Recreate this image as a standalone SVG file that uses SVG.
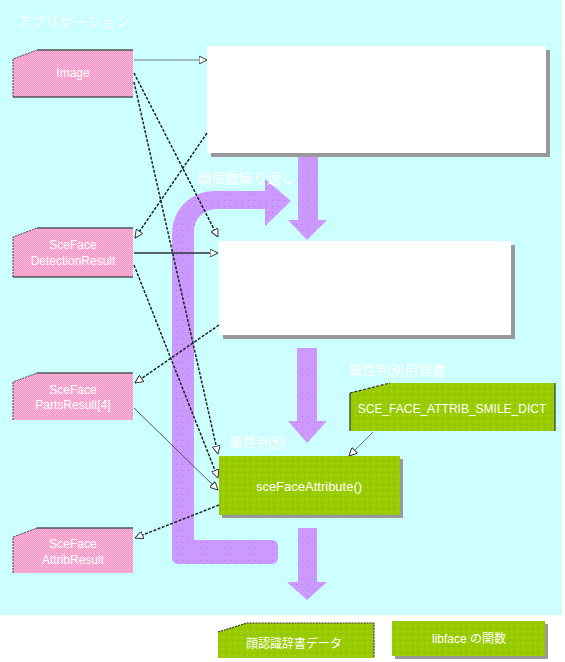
<svg xmlns="http://www.w3.org/2000/svg" width="565" height="662" viewBox="0 0 565 662">
<style>
.t{font-family:"Liberation Sans","Noto Sans CJK JP",Arial,sans-serif;fill:#ffffff;}
.pink{fill:url(#pinkPat);}
.pinkEdge{fill:none;stroke:#555;stroke-width:1.5;}
.green{fill:url(#greenPat);}
.shadow{fill:#999999;}
.white{fill:#ffffff;}
.purple{fill:url(#purplePat);}
.dash{fill:none;stroke:#222;stroke-width:1.5;stroke-dasharray:3 1.5;marker-end:url(#ah);}
.solid{fill:none;stroke:#333;stroke-width:1.5;marker-end:url(#ah);}
.thin{fill:none;stroke:#777;stroke-width:1;marker-end:url(#ah);}
</style>
<defs>
<pattern id="bgPat" width="8" height="8" patternUnits="userSpaceOnUse">
<rect width="8" height="8" fill="#ccffff"/>
<rect x="0" y="0" width="1" height="1" fill="#eaffff"/>
<rect x="4" y="4" width="1" height="1" fill="#c0eef2"/>
</pattern>
<pattern id="pinkPat" width="2" height="2" patternUnits="userSpaceOnUse">
<rect width="2" height="2" fill="#f295c6"/>
<rect x="0" y="0" width="1" height="1" fill="#fbb8da"/>
<rect x="1" y="1" width="1" height="1" fill="#fbb8da"/>
</pattern>
<pattern id="greenPat" width="6" height="6" patternUnits="userSpaceOnUse">
<rect width="6" height="6" fill="#99cc00"/>
<rect x="1" y="1" width="1" height="1" fill="#b8dc40"/>
<rect x="4" y="4" width="1" height="1" fill="#86b400"/>
</pattern>
<pattern id="purplePat" width="6" height="6" patternUnits="userSpaceOnUse">
<rect width="6" height="6" fill="#cc99ff"/>
<rect x="2" y="2" width="1" height="1" fill="#aa7ae0"/>
</pattern>
<marker id="ah" viewBox="0 0 10 10" refX="10" refY="5" markerWidth="9" markerHeight="8" markerUnits="userSpaceOnUse" orient="auto">
<path d="M0,0 L10,5 L0,10 Z" fill="#ffffff" stroke="#333" stroke-width="1.2"/>
</marker>
</defs>

<rect x="0" y="0" width="565" height="662" fill="#ffffff"/>
<rect id="app-bg" x="0" y="0" width="562" height="615" fill="url(#bgPat)"/>
<text class="t" x="17" y="27" font-size="14">アプリケーション</text>

<g id="flow-arrows">
<path class="purple" d="M291,201 L265,226 L265,209 L216,209 A22,22 0 0 0 194,231 L194,540 L272,540 A6,6 0 0 1 278,546 L278,558 A6,6 0 0 1 272,564 L178,564 A6,6 0 0 1 172,558 L172,233 A42,42 0 0 1 214,191 L265,191 L265,179 Z"/>
<path class="purple" d="M298,157 L318,157 L318,220 L327,220 L307,240 L288,220 L298,220 Z"/>
<path class="purple" d="M297,348 L317,348 L317,421 L327,421 L307,443 L288,421 L297,421 Z"/>
<path class="purple" d="M298,528 L317,528 L317,582 L327,582 L307,600 L287,582 L298,582 Z"/>
</g>

<text class="t" x="197" y="183" font-size="14">顔個数繰り返し</text>
<text class="t" x="348" y="375" font-size="14">属性判別用辞書</text>
<text class="t" x="229" y="447" font-size="14">属性判別</text>

<g id="box-top">
<rect class="shadow" x="211" y="50" width="339" height="107"/>
<rect class="white" x="207" y="46" width="339" height="107"/>
</g>
<g id="box-middle">
<rect class="shadow" x="223" y="245" width="292" height="94"/>
<rect class="white" x="219" y="241" width="292" height="94"/>
</g>

<g id="image">
<path class="pink" d="M13,59 L37,50 L133,50 L133,97 L13,97 Z"/>
<path class="pinkEdge" d="M13,97 L133,97 M37,50 L133,50"/>
<path fill="none" stroke="#444" stroke-width="1" stroke-dasharray="2 1" d="M13,97 L13,59 L37,50"/>
<text class="t" x="73" y="77" font-size="12" text-anchor="middle">Image</text>
</g>
<g id="detection-result">
<path class="pink" d="M13,237 L37,228 L133,228 L133,277 L13,277 Z"/>
<path class="pinkEdge" d="M13,277 L133,277 M37,228 L133,228"/>
<path fill="none" stroke="#444" stroke-width="1" stroke-dasharray="2 1" d="M13,277 L13,237 L37,228"/>
<text class="t" x="73" y="249" font-size="12" text-anchor="middle">SceFace</text>
<text class="t" x="73" y="265" font-size="12" text-anchor="middle">DetectionResult</text>
</g>
<g id="parts-result">
<path class="pink" d="M13,382 L37,373 L133,373 L133,420 L13,420 Z"/>
<path class="pinkEdge" d="M37,373 L133,373"/>
<path fill="none" stroke="#444" stroke-width="1" stroke-dasharray="2 1" d="M13,420 L13,382 L37,373"/>
<text class="t" x="73" y="394" font-size="12" text-anchor="middle">SceFace</text>
<text class="t" x="73" y="409" font-size="12" text-anchor="middle">PartsResult[4]</text>
</g>
<g id="attrib-result">
<path class="pink" d="M13,537 L37,528 L133,528 L133,573 L13,573 Z"/>
<path class="pinkEdge" d="M37,528 L133,528"/>
<path fill="none" stroke="#444" stroke-width="1" stroke-dasharray="2 1" d="M13,573 L13,537 L37,528"/>
<text class="t" x="73" y="548" font-size="12" text-anchor="middle">SceFace</text>
<text class="t" x="73" y="564" font-size="12" text-anchor="middle">AttribResult</text>
</g>

<g id="smile-dict">
<path class="green" d="M350,393 L390,383 L555,383 L555,431 L350,431 Z"/>
<path fill="none" stroke="#333" stroke-width="1.2" d="M350,431 L350,393 M555,383 L555,431"/>
<path fill="none" stroke="#333" stroke-width="1.2" stroke-dasharray="3 1.5" d="M350,393 L390,383"/>
<text class="t" x="452" y="413" font-size="12" text-anchor="middle">SCE_FACE_ATTRIB_SMILE_DICT</text>
</g>
<g id="sce-face-attribute">
<rect class="shadow" x="222" y="459" width="181" height="59"/>
<rect class="green" x="219" y="456" width="181" height="59"/>
<text class="t" x="309" y="491" font-size="13" text-anchor="middle">sceFaceAttribute()</text>
</g>

<g id="connectors">
<path class="thin" d="M134,60 L207,60"/>
<path class="dash" d="M134,73 L218,237"/>
<path class="dash" d="M134,82 L218,454"/>
<path class="dash" d="M207,133 L135,238"/>
<path class="solid" d="M134,253 L218,253"/>
<path class="dash" d="M134,265 L218,478"/>
<path class="dash" d="M219,325 L135,383"/>
<path fill="none" stroke="#555" stroke-width="1" marker-end="url(#ah)" d="M134,408 L218,490"/>
<path class="dash" d="M219,505 L135,538"/>
<path class="thin" d="M373,432 L349,456"/>
</g>

<g id="legend-dict">
<path class="green" d="M218,632 L247,623 L374,623 L374,658 L218,658 Z"/>
<path fill="none" stroke="#333" stroke-width="1.2" stroke-dasharray="2 1" d="M218,632 L247,623 L374,623 L374,658"/>
<text class="t" x="294" y="648" font-size="12" text-anchor="middle">顔認識辞書データ</text>
</g>
<g id="legend-func">
<rect class="shadow" x="395" y="624" width="153" height="35"/>
<rect class="green" x="392" y="621" width="153" height="35"/>
<text class="t" x="469" y="643" font-size="12" text-anchor="middle">libface の関数</text>
</g>
</svg>
